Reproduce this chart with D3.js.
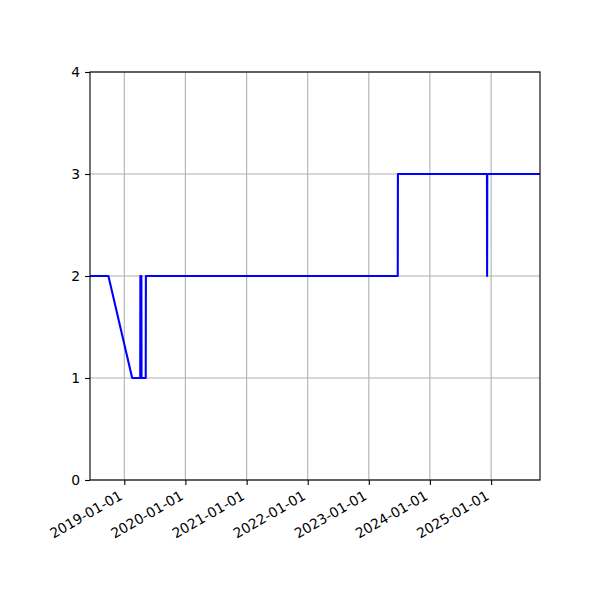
<!DOCTYPE html>
<html><head><meta charset="utf-8">
<script src="https://cdn.jsdelivr.net/npm/d3@7"></script>
<style>body{margin:0;background:#fff}svg{display:block}</style>
</head><body><svg id="c" width="600" height="600"></svg>
<script>
const dates = ["2018-06-10","2018-09-28","2019-02-17","2019-04-06","2019-04-07","2019-04-13","2019-04-14","2019-05-09","2019-05-10","2023-06-23","2023-06-24","2024-12-07","2024-12-08","2024-12-09","2025-10-20"];
const values = [2,2,1,1,2,2,1,1,2,2,3,3,2,3,3];
const yTicks = [0,1,2,3,4];
const xTickLabels = ["2019-01-01","2020-01-01","2021-01-01","2022-01-01","2023-01-01","2024-01-01","2025-01-01"];

const parse = d3.utcParse("%Y-%m-%d");
const data = dates.map((d,i)=>({t:parse(d), v:values[i]}));
const L=90,R=540,T=72,B=480;
const svg=d3.select("#c");
const x=d3.scaleUtc().domain(d3.extent(data,d=>d.t)).range([L,R]);
const y=d3.scaleLinear().domain([0,4]).range([B,T]);
const xt=xTickLabels.map(parse);
const font="DejaVu Sans, sans-serif";

// grid
svg.append("g").selectAll("line").data(xt).join("line")
 .attr("x1",d=>x(d)).attr("x2",d=>x(d)).attr("y1",T).attr("y2",B)
 .attr("stroke","#b0b0b0").attr("stroke-width",1.1);
svg.append("g").selectAll("line").data(yTicks).join("line")
 .attr("x1",L).attr("x2",R).attr("y1",d=>y(d)).attr("y2",d=>y(d))
 .attr("stroke","#b0b0b0").attr("stroke-width",1.1);

// line
svg.append("path").datum(data)
 .attr("d",d3.line().x(d=>x(d.t)).y(d=>y(d.v)))
 .attr("fill","none").attr("stroke","#0000ff").attr("stroke-width",2.08)
 .attr("stroke-linejoin","round").attr("stroke-linecap","butt");

// frame
svg.append("rect").attr("x",L).attr("y",T).attr("width",R-L).attr("height",B-T)
 .attr("fill","none").attr("stroke","#000").attr("stroke-width",1.1);

// y axis
const ya=svg.append("g").attr("transform",`translate(${L},0)`)
 .call(d3.axisLeft(y).tickValues(yTicks).tickSize(4.9).tickPadding(4.9).tickFormat(d3.format("d")));
ya.select(".domain").remove();
ya.selectAll("line").attr("stroke","#000").attr("stroke-width",1.1);
ya.selectAll("text").attr("font-family",font).attr("font-size",13.9).attr("fill","#000");

// x axis
const xa=svg.append("g").attr("transform",`translate(0,${B})`)
 .call(d3.axisBottom(x).tickValues(xt).tickSize(4.9).tickFormat(d3.utcFormat("%Y-%m-%d")));
xa.select(".domain").remove();
xa.selectAll("line").attr("stroke","#000").attr("stroke-width",1.1);
xa.selectAll("text").attr("font-family",font).attr("font-size",13.9).attr("fill","#000")
 .attr("text-anchor","end").attr("dy",null).attr("y",0).attr("x",0)
 .attr("transform","translate(-1.5,18.5) rotate(-30)");
</script></body></html>
